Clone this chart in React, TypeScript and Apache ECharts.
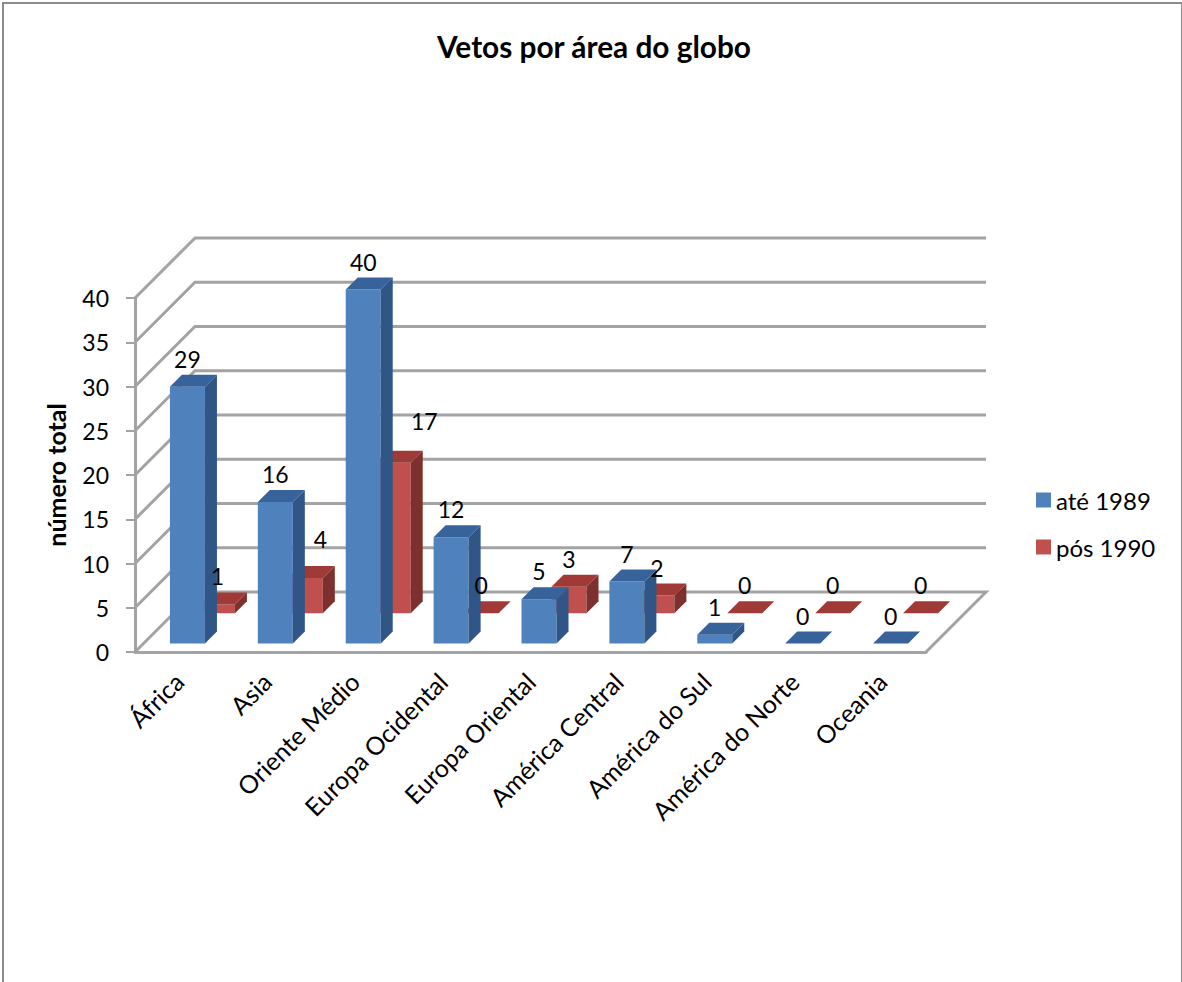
import React, { useEffect, useRef } from "react";
import * as echarts from "echarts";

const categories = [
  "África",
  "Asia",
  "Oriente Médio",
  "Europa Ocidental",
  "Europa Oriental",
  "América Central",
  "América do Sul",
  "América do Norte",
  "Oceania",
];
const ate1989 = [29, 16, 40, 12, 5, 7, 1, 0, 0];
const pos1990 = [1, 4, 17, 0, 3, 2, 0, 0, 0];
const axisTicks = [0, 5, 10, 15, 20, 25, 30, 35, 40];

const FONT = "Lato, Carlito, Calibri, sans-serif";
const WALL = "#a3a3a3";
const INK = "#000000";

// Pseudo-3D layout of the chart box, in pixels.
const BOX_DEPTH = 60;
const BAR_WIDTH = 35;
const BAR_DEPTH = 12;
const LABEL_RISE = 28;

type Row = {
  left: number;
  lift: number;
  front: string;
  top: string;
  side: string;
};
const blueRow: Row = { left: -9, lift: 8.5, front: "#4f81bd", top: "#38629a", side: "#2f5687" };
const redRow: Row = { left: 21, lift: 38.7, front: "#c0504d", top: "#a03a37", side: "#7e302e" };

// Data labels that sit away from their bars, keyed by category index.
const movedRedLabels: Record<number, [number, number]> = {
  1: [15, -11],
  2: [31, -14],
};

function renderWalls(params: any, api: any) {
  const v = api.value(0);
  const y = api.coord([0, v])[1];
  const box = params.coordSys;
  const x0 = box.x;
  const x1 = box.x + box.width;
  const points =
    v === 0
      ? [
          [x0, y],
          [x0 + BOX_DEPTH, y - BOX_DEPTH],
          [x1 + BOX_DEPTH, y - BOX_DEPTH],
          [x1, y],
        ]
      : [
          [x0, y],
          [x0 + BOX_DEPTH, y - BOX_DEPTH],
          [x1 + BOX_DEPTH, y - BOX_DEPTH],
        ];
  return {
    type: "polyline",
    shape: { points },
    style: { stroke: WALL, lineWidth: 3, fill: "none" },
  };
}

function barRenderer(row: Row) {
  return (_params: any, api: any) => {
    const top = api.coord([api.value(0), api.value(1)]);
    const base = api.coord([api.value(0), 0]);
    const x0 = top[0] + row.left;
    const x1 = x0 + BAR_WIDTH;
    const yTop = top[1] - row.lift;
    const yBase = base[1] - row.lift;
    const d = BAR_DEPTH;
    const children: any[] = [];
    if (yBase > yTop) {
      children.push({
        type: "polygon",
        shape: { points: [[x0, yTop], [x1, yTop], [x1, yBase], [x0, yBase]] },
        style: { fill: row.front },
      });
      children.push({
        type: "polygon",
        shape: { points: [[x1, yTop], [x1 + d, yTop - d], [x1 + d, yBase - d], [x1, yBase]] },
        style: { fill: row.side },
      });
    }
    children.push({
      type: "polygon",
      shape: { points: [[x0, yTop], [x0 + d, yTop - d], [x1 + d, yTop - d], [x1, yTop]] },
      style: { fill: row.top },
    });
    return { type: "group", children };
  };
}

function labelRenderer(row: Row, moved: Record<number, [number, number]>) {
  return (_params: any, api: any) => {
    const i = api.value(0);
    const p = api.coord([i, api.value(1)]);
    const shift = moved[i] || [0, 0];
    return {
      type: "text",
      x: p[0] + row.left + BAR_WIDTH / 2 + shift[0],
      y: p[1] - row.lift - LABEL_RISE + shift[1],
      style: {
        text: String(api.value(1)),
        fill: INK,
        font: `23px ${FONT}`,
        textAlign: "center",
        textVerticalAlign: "middle",
      },
    };
  };
}

function toPairs(values: number[]) {
  return values.map((v, i) => [i, v]);
}

export default function App() {
  const ref = useRef<HTMLDivElement>(null);

  useEffect(() => {
    document.body.style.margin = "0";
    const chart = echarts.init(ref.current!, undefined, { renderer: "svg" });
    chart.setOption({
      animation: false,
      backgroundColor: "#ffffff",
      textStyle: { fontFamily: FONT },
      title: {
        text: "Vetos por área do globo",
        left: 589,
        top: 26,
        textAlign: "center",
        textStyle: { fontFamily: FONT, fontSize: 29.8, fontWeight: "bold", color: INK },
      },
      grid: { left: 135, top: 298, width: 791, height: 354 },
      legend: {
        orient: "vertical",
        left: 1031,
        top: 483,
        itemWidth: 15,
        itemHeight: 15,
        itemGap: 23,
        icon: "rect",
        data: [
          { name: "até 1989", itemStyle: { color: blueRow.front } },
          { name: "pós 1990", itemStyle: { color: redRow.front } },
        ],
        textStyle: { fontFamily: FONT, fontSize: 24, color: INK },
      },
      xAxis: {
        type: "category",
        data: categories,
        axisLine: { lineStyle: { color: WALL, width: 3 } },
        axisTick: { show: false },
        axisLabel: {
          rotate: 45,
          interval: 0,
          margin: 25,
          color: INK,
          fontFamily: FONT,
          fontSize: 25,
        },
      },
      yAxis: {
        type: "value",
        min: 0,
        max: 40,
        interval: 5,
        name: "número total",
        nameLocation: "middle",
        nameGap: 67,
        nameRotate: 90,
        nameTextStyle: { fontFamily: FONT, fontSize: 25, fontWeight: "bold", color: INK },
        splitLine: { show: false },
        axisLine: { show: true, lineStyle: { color: WALL, width: 3 } },
        axisTick: { show: true, length: 9, lineStyle: { color: WALL, width: 2 } },
        axisLabel: {
          margin: 26,
          color: INK,
          fontFamily: FONT,
          fontSize: 23,
          padding: [0, 0, 4, 0],
        },
      },
      graphic: [
        {
          type: "polyline",
          shape: { points: [[3, 982], [3, 3], [1182, 3], [1182, 982]] },
          style: { stroke: "#8c8c8c", lineWidth: 2, fill: "none" },
          silent: true,
        },
      ],
      series: [
        {
          type: "custom",
          name: "paredes",
          z: 1,
          silent: true,
          renderItem: renderWalls,
          data: axisTicks.map((t) => [t]),
          encode: { y: 0 },
        },
        {
          type: "custom",
          name: "pós 1990",
          z: 2,
          color: redRow.front,
          renderItem: barRenderer(redRow),
          data: toPairs(pos1990),
          encode: { x: 0, y: 1 },
        },
        {
          type: "custom",
          name: "até 1989",
          z: 3,
          color: blueRow.front,
          renderItem: barRenderer(blueRow),
          data: toPairs(ate1989),
          encode: { x: 0, y: 1 },
        },
        {
          type: "custom",
          name: "rótulos pós 1990",
          z: 5,
          silent: true,
          renderItem: labelRenderer(redRow, movedRedLabels),
          data: toPairs(pos1990),
          encode: { x: 0, y: 1 },
        },
        {
          type: "custom",
          name: "rótulos até 1989",
          z: 5,
          silent: true,
          renderItem: labelRenderer(blueRow, {}),
          data: toPairs(ate1989),
          encode: { x: 0, y: 1 },
        },
      ],
    });
    return () => chart.dispose();
  }, []);

  return <div ref={ref} style={{ width: 1182, height: 982 }} />;
}
